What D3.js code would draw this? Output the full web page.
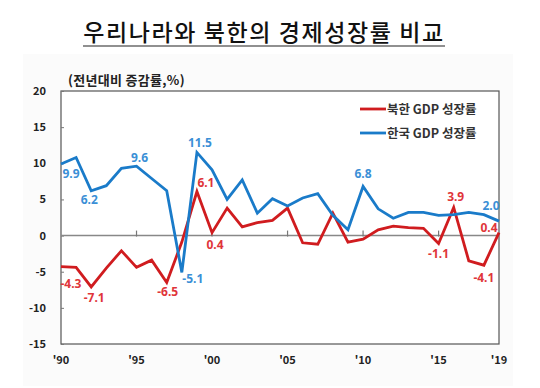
<!DOCTYPE html>
<html>
<head>
<meta charset="utf-8">
<script src="https://cdn.jsdelivr.net/npm/d3@7"></script>
<style>
  body { margin: 0; background: #fff; }
  svg text { font-family: "Noto Sans CJK KR", "Noto Sans", sans-serif; }
  .tick-label { font-size: 11px; font-weight: bold; fill: #222; }
  .val { font-size: 12px; font-weight: bold; font-family: "Noto Sans", sans-serif; }
</style>
</head>
<body>
<svg id="chart" width="540" height="388"></svg>
<script>
let years = d3.range(1990, 2020)
let korea = [9.9, 10.8, 6.2, 6.9, 9.3, 9.6, 7.9, 6.2, -5.1, 11.5,
             9.1, 5.0, 7.7, 3.1, 5.1, 4.1, 5.2, 5.8, 2.8, 0.8,
             6.8, 3.7, 2.4, 3.2, 3.2, 2.8, 2.9, 3.2, 2.9, 2.0]
let north = [-4.3, -4.4, -7.1, -4.5, -2.1, -4.4, -3.4, -6.5, -0.9, 6.1,
             0.4, 3.8, 1.2, 1.8, 2.1, 3.8, -1.0, -1.2, 3.1, -0.9,
             -0.5, 0.8, 1.3, 1.1, 1.0, -1.1, 3.9, -3.5, -4.1, 0.4]
let yTicks = [20, 15, 10, 5, 0, -5, -10, -15]
let xTicks = [1990, 1995, 2000, 2005, 2010, 2015, 2019]
let legendNames = ["북한 GDP 성장률", "한국 GDP 성장률"]
// labelled points: [year, value, dx, dy]
let koreaLabels = [[1990, 9.9, 10, 14], [1992, 6.2, -2, 13], [1995, 9.6, 3, -4],
                   [1999, 11.5, 3, -5], [1998, -5.1, 11, 11], [2010, 6.8, 0, -8], [2019, 2.0, -8, -11]]
let northLabels = [[1990, -4.3, 10, 21], [1992, -7.1, 3, 15], [1997, -6.5, 1, 13],
                   [1999, 6.1, 9, -4], [2000, 0.4, 3, 16], [2015, -1.1, 0, 14],
                   [2016, 3.9, 2, -6], [2018, -4.1, 0, 17], [2019, 0.4, -10, -1]]

let red = "#d01c1f", blue = "#1a7bc9"
let redTxt = "#e0353a", blueTxt = "#3b8fd6"

let svg = d3.select("#chart")
let x = d3.scaleLinear().domain([1990, 2019]).range([61, 499])
let y = d3.scaleLinear().domain([-15, 20]).range([344, 91])

// faint panel
svg.append("rect").attr("x", 23).attr("y", 54).attr("width", 490).attr("height", 332)
   .attr("fill", "#fbfbfb")

// title
svg.append("text").attr("x", 264).attr("y", 41).attr("text-anchor", "middle")
   .style("font-size", "23px").style("font-weight", 500).style("letter-spacing", "1.6px").attr("fill", "#111")
   .text("우리나라와 북한의 경제성장률 비교")
svg.append("line").attr("x1", 83).attr("x2", 445).attr("y1", 46).attr("y2", 46)
   .attr("stroke", "#222").attr("stroke-width", 1.2)

svg.append("text").attr("x", 68).attr("y", 85)
   .style("font-size", "13px").style("font-weight", "bold").style("letter-spacing", "0.3px").attr("fill", "#222")
   .text("(전년대비 증감률,%)")

// plot frame
svg.append("rect").attr("x", x(1990)).attr("y", y(20))
   .attr("width", x(2019) - x(1990)).attr("height", y(-15) - y(20))
   .attr("fill", "#fff").attr("stroke", "#555").attr("stroke-width", 1.2)

// y axis
let yAxis = d3.axisRight(y).tickValues(yTicks).tickSize(3).tickFormat("")
svg.append("g").attr("transform", `translate(${x(1990)},0)`).call(yAxis)
   .call(g => g.select(".domain").remove())
   .call(g => g.selectAll("line").attr("stroke", "#777"))
svg.selectAll(".ylab").data(yTicks).enter().append("text")
   .attr("class", "tick-label").attr("x", 46).attr("y", d => y(d) + 4)
   .attr("text-anchor", "end").text(d => d)

// zero line with year ticks
svg.append("line").attr("x1", x(1990)).attr("x2", x(2019))
   .attr("y1", y(0)).attr("y2", y(0)).attr("stroke", "#888").attr("stroke-width", 1.5)
svg.selectAll(".xt").data(xTicks.slice(1, -1)).enter().append("line")
   .attr("x1", d => x(d)).attr("x2", d => x(d))
   .attr("y1", y(0) - 5).attr("y2", y(0) + 1).attr("stroke", "#777").attr("stroke-width", 1.2)
svg.selectAll(".xlab").data(xTicks).enter().append("text")
   .attr("class", "tick-label").attr("x", d => x(d)).attr("y", 364)
   .attr("text-anchor", "middle").text(d => "'" + String(d).slice(2))

// lines
let line = d3.line().x((d, i) => x(years[i])).y(d => y(d))
svg.append("path").datum(north).attr("d", line).attr("fill", "none")
   .attr("stroke", red).attr("stroke-width", 2.8).attr("stroke-linejoin", "miter")
svg.append("path").datum(korea).attr("d", line).attr("fill", "none")
   .attr("stroke", blue).attr("stroke-width", 2.8).attr("stroke-linejoin", "miter")

// value labels
function labels(arr, color) {
    svg.append("g").selectAll("text").data(arr).enter().append("text")
       .attr("class", "val").attr("fill", color).attr("text-anchor", "middle")
       .attr("x", d => x(d[0]) + d[2]).attr("y", d => y(d[1]) + d[3])
       .text(d => d[1].toFixed(1))
}
labels(koreaLabels, blueTxt)
labels(northLabels, redTxt)

// legend
let legendColors = [red, blue]
legendNames.forEach(function (d, i) {
    let g = svg.append("g").attr("transform", `translate(360,${109 + i * 24})`)
    g.append("line").attr("x1", 0).attr("x2", 26).attr("stroke", legendColors[i]).attr("stroke-width", 2.8)
    g.append("text").attr("x", 27).attr("y", 4.5)
       .style("font-size", "12.5px").style("font-weight", "bold").attr("fill", "#333").text(d)
})
</script>
</body>
</html>
